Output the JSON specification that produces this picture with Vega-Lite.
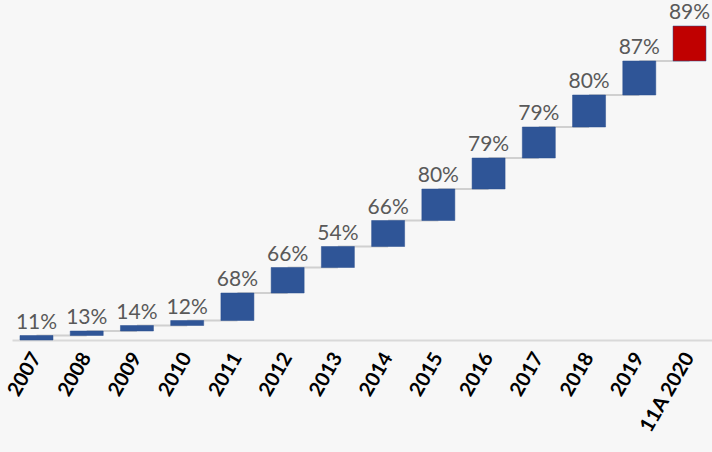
{
  "$schema": "https://vega.github.io/schema/vega-lite/v6.json",
  "autosize": {"type": "none"},
  "padding": {"left": 12, "top": 0, "right": 0, "bottom": 112},
  "width": 702,
  "height": 340,
  "background": "#f7f7f7",
  "config": {"view": {"stroke": null}},
  "data": {
    "values": [
      {"year": "2007", "next": "2008", "start": 0, "end": 4.5, "label": "11%", "kind": "hist"},
      {"year": "2008", "next": "2009", "start": 4.5, "end": 9, "label": "13%", "kind": "hist"},
      {"year": "2009", "next": "2010", "start": 9, "end": 14.5, "label": "14%", "kind": "hist"},
      {"year": "2010", "next": "2011", "start": 14.5, "end": 19.5, "label": "12%", "kind": "hist"},
      {"year": "2011", "next": "2012", "start": 19.5, "end": 47, "label": "68%", "kind": "hist"},
      {"year": "2012", "next": "2013", "start": 47, "end": 72.5, "label": "66%", "kind": "hist"},
      {"year": "2013", "next": "2014", "start": 72.5, "end": 93.5, "label": "54%", "kind": "hist"},
      {"year": "2014", "next": "2015", "start": 93.5, "end": 119.5, "label": "66%", "kind": "hist"},
      {"year": "2015", "next": "2016", "start": 119.5, "end": 151, "label": "80%", "kind": "hist"},
      {"year": "2016", "next": "2017", "start": 151, "end": 182, "label": "79%", "kind": "hist"},
      {"year": "2017", "next": "2018", "start": 182, "end": 213, "label": "79%", "kind": "hist"},
      {"year": "2018", "next": "2019", "start": 213, "end": 245, "label": "80%", "kind": "hist"},
      {"year": "2019", "next": "11A 2020", "start": 245, "end": 279, "label": "87%", "kind": "hist"},
      {"year": "11A 2020", "next": null, "start": 279, "end": 314, "label": "89%", "kind": "ytd"}
    ]
  },
  "encoding": {
    "x": {
      "field": "year",
      "type": "nominal",
      "sort": null,
      "scale": {"paddingInner": 0.343, "paddingOuter": 0.159},
      "axis": {
        "title": null,
        "ticks": false,
        "domainColor": "#d9d9d9",
        "domainWidth": 2,
        "labelAngle": -60,
        "labelFont": "Lato",
        "labelFontWeight": "bold",
        "labelFontSize": 20,
        "labelColor": "#000000",
        "labelPadding": 14
      }
    }
  },
  "layer": [
    {
      "transform": [{"filter": "datum.next != null"}],
      "mark": {"type": "rule", "color": "#d0d0d0", "strokeWidth": 2},
      "encoding": {
        "x": {"field": "year", "type": "nominal", "sort": null},
        "x2": {"field": "next"},
        "y": {"field": "end", "type": "quantitative", "scale": {"domain": [0, 340], "nice": false, "zero": false}, "axis": null}
      }
    },
    {
      "mark": {"type": "bar", "stroke": "#2a4f8f", "strokeWidth": 0.5},
      "encoding": {
        "y": {"field": "start", "type": "quantitative", "scale": {"domain": [0, 340], "nice": false, "zero": false}, "axis": null},
        "y2": {"field": "end"},
        "color": {
          "field": "kind",
          "type": "nominal",
          "scale": {"domain": ["hist", "ytd"], "range": ["#2F5597", "#C00000"]},
          "legend": null
        }
      }
    },
    {
      "mark": {"type": "text", "font": "Lato", "fontSize": 21, "color": "#595959", "baseline": "alphabetic", "dy": -7},
      "encoding": {
        "y": {"field": "end", "type": "quantitative", "scale": {"domain": [0, 340], "nice": false, "zero": false}, "axis": null},
        "text": {"field": "label"}
      }
    }
  ]
}
